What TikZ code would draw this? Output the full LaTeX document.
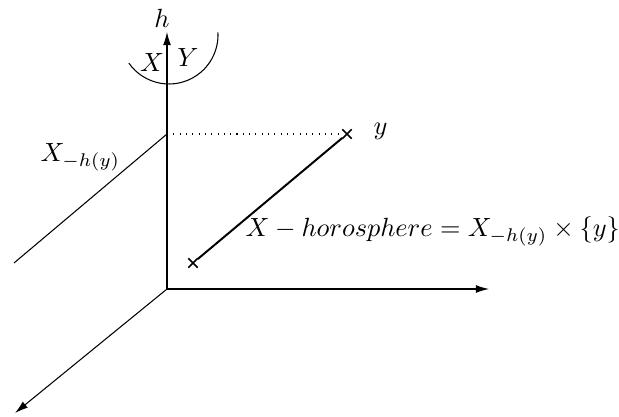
\documentclass[tikz,border=0pt]{standalone}
\usepackage{amsmath,amssymb}
\usetikzlibrary{arrows.meta,positioning,shapes.misc}
\tikzset{
  axis/.style={-{Latex[length=5pt,width=3pt]},line width=.4pt},
  thin line/.style={line width=.4pt},
  seg/.style={line width=.75pt},
  pt/.style={cross out,draw,line width=.6pt,minimum size=3pt,inner sep=0pt},
  lbl/.style={inner sep=0pt},
}

\begin{document}
\begin{tikzpicture}[x=0.38pt,y=0.38pt]
  \useasboundingbox (0,0) rectangle (619,416);
  % axes
  \coordinate (o) at (167,127);
  \coordinate (htip) at (167,384);
  \coordinate (rtip) at (489,127);
  \coordinate (dtip) at (15,3);
  \draw[axis] (o) -- (htip);
  \draw[axis] (o) -- (rtip);
  \draw[axis] (o) -- (dtip);
  \node[lbl,anchor=base] (h) at (162,388) {$h$};
  % the fibre over y
  \coordinate (p) at (167,282);
  \coordinate (q) at (14,153);
  \draw[thin line] (p) -- (q);
  \node[lbl,anchor=base west] (xh) at (40,254) {$X_{-h(y)}$};
  \node[pt] (y) at (347,282) {};
  \node[pt] (z) at (193,153) {};
  \draw[thin line,dotted] (p) -- (y);
  \draw[seg] (y) -- (z);
  \node[lbl,anchor=base west] (ylbl) at (373,281) {$y$};
  \node[lbl,anchor=base west] (hs) at (245,179) {$X-horosphere=X_{-h(y)}\times\{y\}$};
  % the two sides
  \draw[thin line] (169,381) ++(215:49) arc[start angle=215,end angle=363,radius=49];
  \node[lbl,anchor=base] (xs) at (152,344) {$X$};
  \node[lbl,anchor=base] (ys) at (188,349) {$Y$};
\end{tikzpicture}
\end{document}
